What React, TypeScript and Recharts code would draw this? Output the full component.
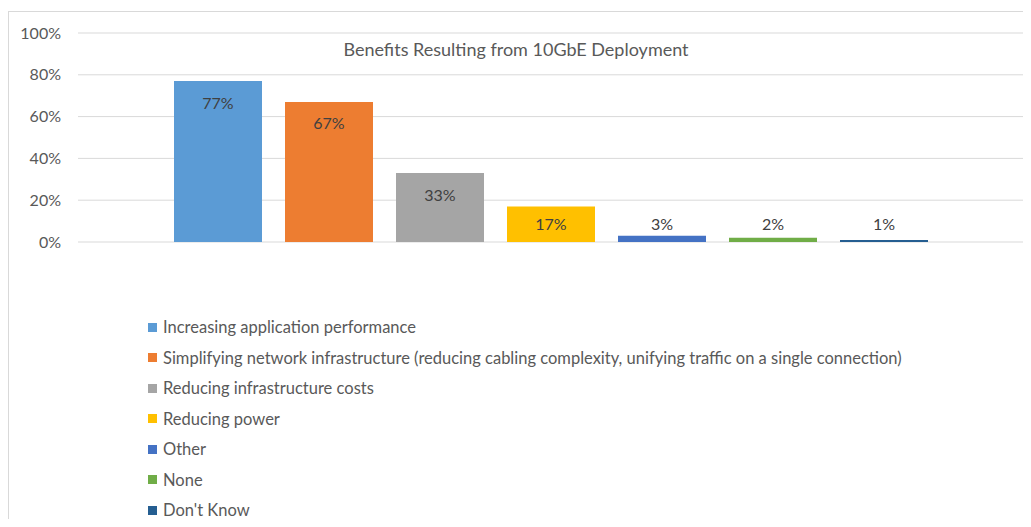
import { BarChart, Bar, XAxis, YAxis, CartesianGrid, Legend, LabelList } from "recharts";

const categories = [
  "Increasing application performance",
  "Simplifying network infrastructure (reducing cabling complexity, unifying traffic on a single connection)",
  "Reducing infrastructure costs",
  "Reducing power",
  "Other",
  "None",
  "Don't Know",
];
const values = [77, 67, 33, 17, 3, 2, 1];
const colors = ["#5B9BD5", "#ED7D31", "#A5A5A5", "#FFC000", "#4472C4", "#70AD47", "#255E91"];
const yTicks = [0, 20, 40, 60, 80, 100];

const FONT = "Lato, 'Open Sans', sans-serif";

const row: Record<string, string | number> = { name: "Benefits" };
categories.forEach((c, i) => {
  row["s" + i] = values[i];
});
const data = [row];

// Excel style: label sits inside the top of the bar, but never lower than just above the axis
const renderLabel = (props: any) => {
  const { x, y, width, height, value } = props;
  const cy = Math.min(y + 21, y + height - 19);
  return (
    <text
      x={x + width / 2}
      y={cy}
      textAnchor="middle"
      dominantBaseline="central"
      fill="#404040"
      fontSize={16}
      fontFamily={FONT}
    >
      {value}%
    </text>
  );
};

const renderLegend = () => (
  <div style={{ fontFamily: FONT, fontSize: 16.5, color: "#595959" }}>
    {categories.map((c, i) => (
      <div key={c} style={{ display: "flex", alignItems: "center", height: 30.5, whiteSpace: "nowrap" }}>
        <span style={{ width: 9, height: 9, background: colors[i], marginRight: 6, display: "inline-block" }} />
        {c}
      </div>
    ))}
  </div>
);

export default function App() {
  return (
    <div
      style={{
        position: "relative",
        marginTop: 3,
        width: 1014,
        height: 507,
        borderTop: "1px solid #d9d9d9",
        borderLeft: "1px solid #d9d9d9",
        overflow: "hidden",
        background: "#fff",
      }}
    >
      <div
        style={{
          position: "absolute",
          top: 26,
          left: 0,
          width: 1014,
          textAlign: "center",
          fontFamily: FONT,
          fontSize: 18,
          color: "#595959",
          zIndex: 1,
        }}
      >
        Benefits Resulting from 10GbE Deployment
      </div>
      <BarChart
        width={1014}
        height={506}
        data={data}
        margin={{ top: 21, right: 0, left: 0, bottom: 276 }}
        barSize={88}
        barGap={23}
      >
        <CartesianGrid vertical={false} stroke="#d9d9d9" />
        <XAxis dataKey="name" hide />
        <YAxis
          width={69}
          domain={[0, 100]}
          ticks={yTicks}
          tickFormatter={(v) => `${v}%`}
          axisLine={false}
          tickLine={false}
          tickSize={0}
          tickMargin={17}
          tick={{ fill: "#595959", fontSize: 16, fontFamily: FONT }}
        />
        <Legend
          layout="vertical"
          align="center"
          verticalAlign="middle"
          content={renderLegend}
          wrapperStyle={{ top: 300, left: 139, width: "auto" }}
        />
        {categories.map((c, i) => (
          <Bar key={c} dataKey={"s" + i} name={c} fill={colors[i]} isAnimationActive={false}>
            <LabelList dataKey={"s" + i} content={renderLabel} />
          </Bar>
        ))}
      </BarChart>
    </div>
  );
}
